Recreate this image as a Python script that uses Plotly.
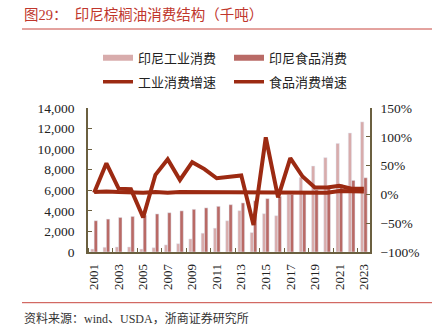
import plotly.graph_objects as go

years = list(range(2001, 2024))
industrial = [290, 460, 490, 490, 290, 420, 690, 810, 1270, 1830, 2320, 3040, 4020,
              1890, 3725, 3530, 5590, 7250, 8360, 9180, 10560, 11570, 12650]
food = [3040, 3200, 3360, 3460, 3570, 3700, 3820, 4000, 4150, 4290, 4440, 4600, 4770,
        4980, 5190, 5400, 5600, 5820, 6050, 6250, 6570, 6960, 7220]
ind_growth = [3, 54, 10, 9, -40, 34, 61, 25, 56, 44, 28, 31, 33,
              -53, 99, -5, 63, 31, 12, 12, 15, 10, 10]
food_growth = [4, 5, 4, 3, 3, 4, 3, 4, 4, 3, 3, 4, 4,
               4, 4, 4, 4, 4, 4, 3, 6, 5, 5]

names = ["印尼工业消费", "印尼食品消费", "工业消费增速", "食品消费增速"]
light_c = "#d8acac"
dark_c = "#b96a66"
line_c = "#9c2a12"
axis_c = "#6b6040"
font_fam = "Liberation Serif, Noto Sans CJK SC"

W, H = 432, 336
L, R, T, B = 88, 370, 108, 252


def px_x(x):
    return (x - L) / (R - L)


def px_y(y):
    return (B - y) / (B - T)


fig = go.Figure()
fig.add_trace(go.Bar(x=years, y=industrial, name=names[0], marker_color=light_c,
                     showlegend=False))
fig.add_trace(go.Bar(x=years, y=food, name=names[1], marker_color=dark_c,
                     showlegend=False))
fig.add_trace(go.Scatter(x=years, y=food_growth, name=names[3], yaxis="y2",
                         mode="lines", line=dict(color=line_c, width=4),
                         showlegend=False))
fig.add_trace(go.Scatter(x=years, y=ind_growth, name=names[2], yaxis="y2",
                         mode="lines", line=dict(color=line_c, width=4),
                         showlegend=False))

# legend-only entries
fig.add_trace(go.Scatter(x=[None], y=[None], name=names[0], mode="lines",
                         line=dict(color=light_c, width=6), legend="legend"))
fig.add_trace(go.Scatter(x=[None], y=[None], name=names[1], mode="lines",
                         line=dict(color=dark_c, width=6), legend="legend"))
fig.add_trace(go.Scatter(x=[None], y=[None], name=names[2], mode="lines",
                         line=dict(color=line_c, width=3.5), legend="legend2"))
fig.add_trace(go.Scatter(x=[None], y=[None], name=names[3], mode="lines",
                         line=dict(color=line_c, width=3.5), legend="legend2"))

leg_common = dict(orientation="h", xanchor="left", yanchor="middle",
                  font=dict(family=font_fam, size=13, color="#222"),
                  bgcolor="rgba(0,0,0,0)", borderwidth=0,
                  entrywidth=86, entrywidthmode="pixels", tracegroupgap=0)

fig.update_layout(
    width=W, height=H,
    margin=dict(l=L, r=W - R, t=T, b=H - B),
    paper_bgcolor="white", plot_bgcolor="white",
    barmode="group", bargap=0.45, bargroupgap=0,
    font=dict(family=font_fam, size=13, color="#222"),
    xaxis=dict(range=[2000.5, 2023.5], tickmode="array",
               tickvals=years[::2], ticktext=[str(y) for y in years[::2]],
               tickangle=-90, ticks="", showgrid=False, zeroline=False,
               showline=True, linecolor=axis_c, linewidth=1.5,
               ticklabelstandoff=5,
               tickfont=dict(size=13, color="#222"),
               minor=dict(tick0=2000.5, dtick=2, ticks="inside", ticklen=4,
                          tickcolor=axis_c, showgrid=False)),
    yaxis=dict(range=[0, 14000], dtick=2000, tickformat=",", showgrid=False,
               zeroline=False, showline=True, linecolor=axis_c, linewidth=1.5,
               ticks="inside", ticklen=4, tickcolor=axis_c,
               ticklabelstandoff=9,
               tickfont=dict(size=13.5, color="#222")),
    yaxis2=dict(range=[-100, 150], dtick=50, ticksuffix="%", overlaying="y",
                side="right", showgrid=False, zeroline=False, showline=True,
                linecolor=axis_c, linewidth=1.5, ticks="inside", ticklen=4,
                tickcolor=axis_c, ticklabelstandoff=6,
                tickfont=dict(size=13.5, color="#222")),
    legend=dict(x=px_x(98), y=px_y(57.7), **leg_common),
    legend2=dict(x=px_x(98), y=px_y(81.7), **leg_common),
    shapes=[
        dict(type="line", xref="paper", yref="paper", x0=px_x(22), x1=px_x(432),
             y0=px_y(29), y1=px_y(29), line=dict(color="#c8473f", width=1)),
        dict(type="line", xref="paper", yref="paper", x0=px_x(22), x1=px_x(432),
             y0=px_y(302.7), y1=px_y(302.7), line=dict(color="#c8473f", width=1)),
    ],
    annotations=[
        dict(text="图29：  印尼棕榈油消费结构（千吨）", xref="paper", yref="paper",
             x=px_x(22), y=px_y(15), xanchor="left", yanchor="middle",
             showarrow=False, font=dict(family=font_fam, size=14.5, color="#c0362c")),
        dict(text="资料来源：wind、USDA，浙商证券研究所", xref="paper", yref="paper",
             x=px_x(22), y=px_y(318.3), xanchor="left", yanchor="middle",
             showarrow=False, font=dict(family=font_fam, size=12, color="#333")),
    ],
)

fig.write_html("out.html")
